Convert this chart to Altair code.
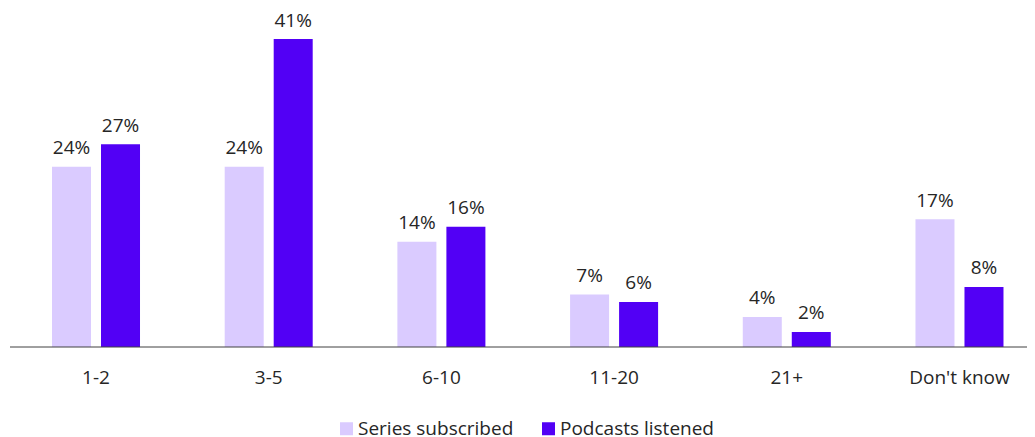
import altair as alt
import pandas as pd

categories = ["1-2", "3-5", "6-10", "11-20", "21+", "Don't know"]
series_names = ["Series subscribed", "Podcasts listened"]
series_subscribed = [24, 24, 14, 7, 4, 17]
podcasts_listened = [27, 41, 16, 6, 2, 8]
colors = ["#DACBFF", "#5200F5"]

rows = []
for c, a, b in zip(categories, series_subscribed, podcasts_listened):
    rows.append({"category": c, "series": series_names[0], "value": a})
    rows.append({"category": c, "series": series_names[1], "value": b})
df = pd.DataFrame(rows)
df["label"] = df["value"].astype(str) + "%"

W, H = 1017, 338
FONT = "Open Sans"
TXT = "#262626"
FS = 19

x = alt.X(
    "category:N",
    sort=categories,
    scale=alt.Scale(paddingInner=0.231, paddingOuter=0.06, align=0.946),
    axis=alt.Axis(title=None, domain=False, ticks=False, labelAngle=0,
                  labelFontSize=FS, labelPadding=21, labelColor=TXT, labelFont=FONT),
)
xo = alt.XOffset("series:N", sort=series_names,
                 scale=alt.Scale(paddingInner=0.204, paddingOuter=0.457))
y = alt.Y("value:Q", scale=alt.Scale(domain=[0, 45]), axis=None)

base = alt.Chart(df)
bars = base.mark_bar().encode(
    x=x, xOffset=xo, y=y,
    color=alt.Color("series:N", sort=series_names,
                    scale=alt.Scale(domain=series_names, range=colors),
                    legend=alt.Legend(orient="none", legendX=327, legendY=410,
                                      direction="horizontal", title=None,
                                      symbolType="square", symbolSize=169,
                                      symbolStrokeWidth=0, symbolOpacity=1,
                                      labelFontSize=FS, labelFont=FONT, labelColor=TXT,
                                      columnPadding=25, labelOffset=2, padding=0)),
)
labels = base.mark_text(baseline="alphabetic", dy=-12.5, fontSize=FS, font=FONT, color=TXT).encode(
    x=x, xOffset=xo, y=y, text="label:N"
)
axis_line = alt.Chart(pd.DataFrame({"v": [0]})).mark_rule(color="#404040", strokeWidth=1).encode(
    x=alt.value(0), x2=alt.value(W), y=alt.value(H)
)

chart = alt.layer(bars, labels, axis_line).properties(
    width=W, height=H,
    autosize=alt.AutoSizeParams(type="none"),
    padding={"left": 2, "top": 1, "right": 0, "bottom": 100},
).configure_view(stroke=None)

chart.save("out.html", embed_options={"renderer": "svg", "actions": False})
